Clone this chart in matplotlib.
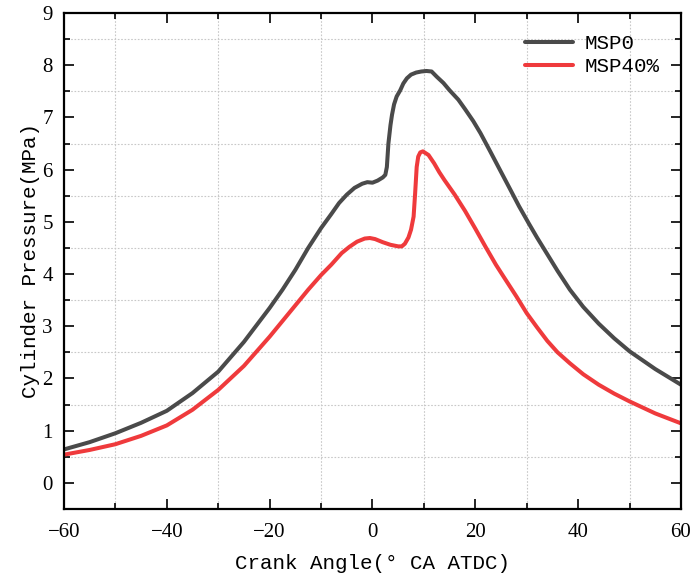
import matplotlib
matplotlib.use("Agg")
import matplotlib.pyplot as plt
from matplotlib.ticker import MultipleLocator

# values (crank angle in deg CA ATDC, pressure in MPa)
crank_msp0 = [-60, -55, -50, -45, -40, -35, -30, -25, -20, -17.5, -15, -12.5, -10, -8,
              -6.5, -5, -3.5, -2, -1, 0, 1, 2, 2.5, 2.8, 3.1, 3.5, 3.8, 4.2, 4.7, 5.4,
              6, 6.7, 7.5, 8.5, 9.5, 10.5, 11.5, 12.5, 13.8, 15, 16.7, 18, 19.6, 21,
              22.9, 24.5, 26.8, 28.5, 30.4, 32, 34, 36, 38.4, 41, 44, 47, 50, 55, 60]
msp0 = [0.64, 0.78, 0.95, 1.15, 1.38, 1.72, 2.13, 2.70, 3.35, 3.70, 4.08, 4.50, 4.88, 5.15,
        5.36, 5.52, 5.65, 5.73, 5.76, 5.75, 5.79, 5.85, 5.90, 6.05, 6.50, 6.85, 7.05, 7.25,
        7.40, 7.52, 7.65, 7.75, 7.82, 7.86, 7.88, 7.89, 7.88, 7.78, 7.66, 7.52, 7.34, 7.16,
        6.93, 6.70, 6.35, 6.05, 5.62, 5.30, 4.97, 4.70, 4.38, 4.06, 3.70, 3.37, 3.05, 2.77,
        2.52, 2.18, 1.88]

crank_msp40 = [-60, -55, -50, -45, -40, -35, -30, -25, -20, -17.5, -15, -12.5, -10, -8,
               -6, -4.5, -3, -1.5, -0.5, 0.5, 2, 3.5, 5, 5.7, 6.3, 7, 7.5, 8, 8.3, 8.6,
               8.9, 9.3, 9.8, 10.9, 12, 13, 14, 16, 18, 20, 22, 24, 25.5, 28, 30, 32, 34,
               36, 38.4, 41, 44, 47, 50, 55, 60]
msp40 = [0.54, 0.63, 0.74, 0.90, 1.10, 1.40, 1.78, 2.24, 2.80, 3.10, 3.40, 3.70, 3.98, 4.18,
         4.40, 4.52, 4.62, 4.68, 4.69, 4.67, 4.61, 4.56, 4.53, 4.53, 4.58, 4.70, 4.85, 5.10,
         5.55, 6.05, 6.25, 6.33, 6.35, 6.28, 6.12, 5.95, 5.80, 5.52, 5.21, 4.87, 4.52, 4.18,
         3.95, 3.57, 3.25, 2.98, 2.72, 2.50, 2.29, 2.08, 1.88, 1.71, 1.56, 1.33, 1.14]

series = [("MSP0", crank_msp0, msp0, "#4a4a4a"),
          ("MSP40%", crank_msp40, msp40, "#ef3a3c")]

label_font = "Liberation Mono"
tick_font = "Liberation Serif"

fig = plt.figure(figsize=(6.94, 5.79), dpi=100)
ax = fig.add_axes([0.0922, 0.121, 0.889, 0.8565])

for name, xs, ys, col in series:
    ax.plot(xs, ys, color=col, lw=2.9, label=name,
            solid_joinstyle="round", solid_capstyle="round")

ax.set_xlim(-60, 60)
ax.set_ylim(-0.5, 9)
ax.xaxis.set_major_locator(MultipleLocator(20))
ax.xaxis.set_minor_locator(MultipleLocator(10))
ax.yaxis.set_major_locator(MultipleLocator(1))
ax.yaxis.set_minor_locator(MultipleLocator(0.5))

# grid sits on the minor ticks only
ax.grid(which="minor", color="#c8c8c8", linestyle=(0, (1.5, 1.5)), lw=0.8)
ax.grid(which="major", visible=False)

ax.tick_params(which="both", direction="in", top=True, right=True, width=1.2,
               labelsize=15)
ax.tick_params(axis="x", which="both", pad=10)
ax.tick_params(axis="y", which="both", pad=8)
ax.tick_params(which="major", length=7)
ax.tick_params(which="minor", length=4)
for lab in ax.get_xticklabels() + ax.get_yticklabels():
    lab.set_fontfamily(tick_font)
for sp in ax.spines.values():
    sp.set_linewidth(1.6)

ax.set_xlabel("Crank Angle(° CA ATDC)", fontfamily=label_font, fontsize=15, labelpad=9)
ax.set_ylabel("Cylinder Pressure(MPa)", fontfamily=label_font, fontsize=15, labelpad=2)

ax.legend(loc="upper right", frameon=False, prop={"family": label_font, "size": 15},
          handlelength=2.3, handletextpad=0.6, borderaxespad=0.6, labelspacing=0.2)

fig.savefig("out.png", dpi=100)
